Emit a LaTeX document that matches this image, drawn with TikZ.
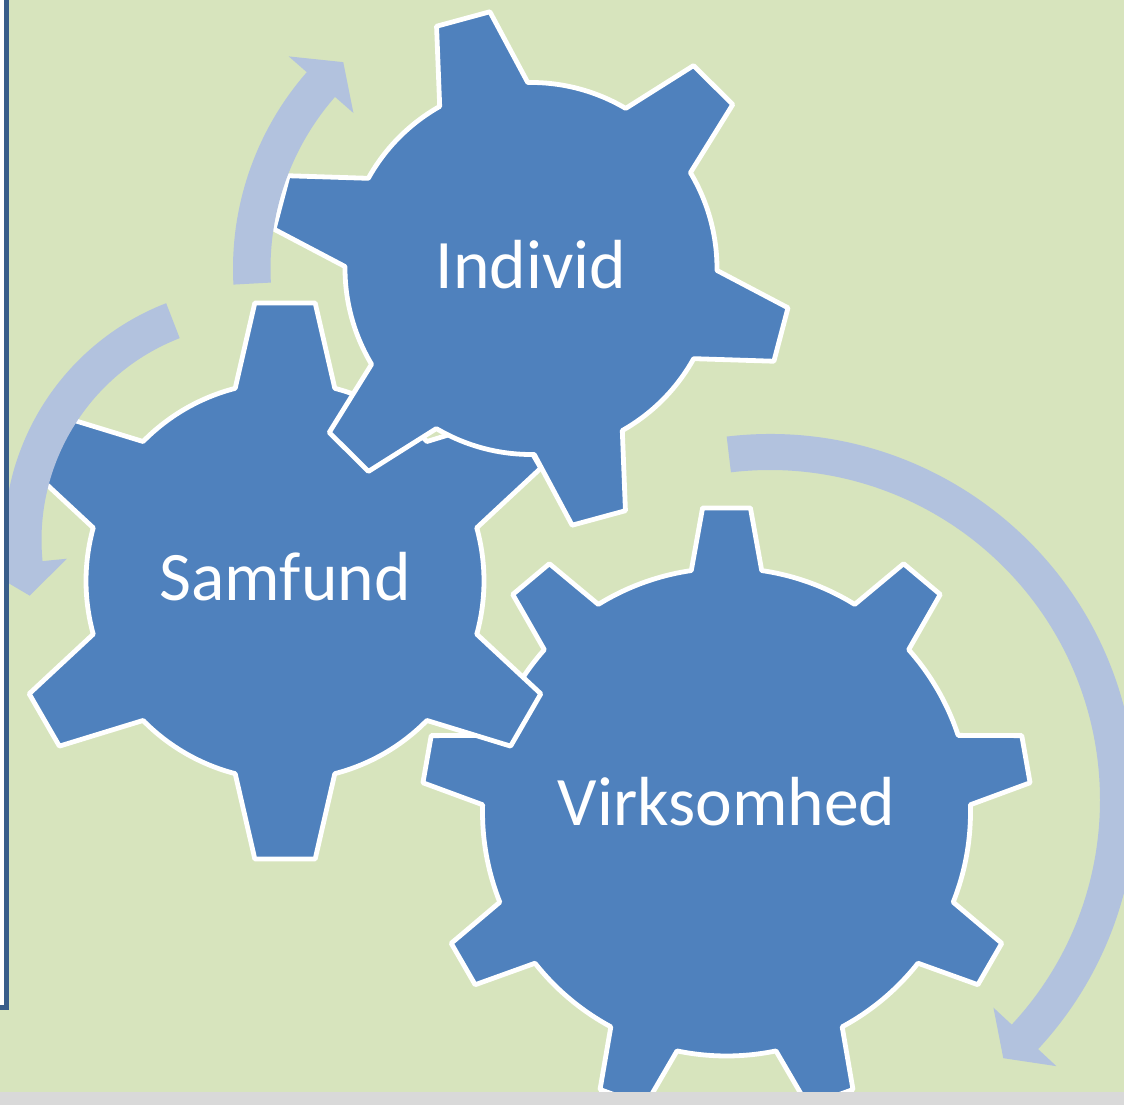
\documentclass[tikz,border=0pt]{standalone}
\usepackage{fontspec}
\setmainfont{Carlito}
\definecolor{pagegreen}{HTML}{D7E4BD}
\definecolor{gearblue}{HTML}{4F81BD}
\definecolor{arrowblue}{HTML}{B2C2DE}
\definecolor{frameblue}{HTML}{385D8A}
\definecolor{stripgray}{HTML}{D9D9D9}
\begin{document}
\begin{tikzpicture}[x=1pt, y=1pt,
    gear/.style={fill=gearblue, draw=white, line width=4.8pt, line join=round},
    gearlabel/.style={text=white, anchor=base, inner sep=0pt, font=\fontsize{69.5}{84}\selectfont},
    turnarrow/.style={fill=arrowblue}]
  \useasboundingbox (0,0) rectangle (1124,1105);
  \fill[pagegreen] (0,0) rectangle (1124,1105);
  % gears: centre, teeth, first tooth angle, body radius, tip radius, half widths, text baseline
  \foreach \gx/\gy/\gn/\gs/\gb/\gt/\wbase/\wtip/\gline/\gname/\gtext in {
      726.5/293/9/90/244/305/8.3/4.5/-14/virksomhed/Virksomhed,
      285/524/6/90/199/279.6/14.5/6.2/-20/samfund/Samfund,
      531/836.5/6/105.2/186/260/14.2/6.1/-20/individ/Individ}
  {
    \pgfmathsetmacro\gstep{360/\gn}
    \pgfmathtruncatemacro\glast{\gn-1}
    \draw[gear, shift={(\gx,\gy)}] ({\gs-\wbase}:\gb)
      \foreach \k in {0,...,\glast}{
        -- ({\gs+\k*\gstep-\wtip}:\gt) -- ({\gs+\k*\gstep+\wtip}:\gt)
        -- ({\gs+\k*\gstep+\wbase}:\gb)
        arc[start angle={\gs+\k*\gstep+\wbase}, end angle={\gs+(\k+1)*\gstep-\wbase}, radius=\gb]
      } -- cycle;
    \node[gearlabel] (\gname) at (\gx,\gy+\gline) {\gtext};
  }
  % circular arrows: centre, inner/outer/middle radius, tail, head base, tip
  \foreach \ax/\ay/\ai/\ao/\ac/\at/\ab/\ap in {
      531/836.5/260.5/298/279/183.1/138.8/132.3,
      258/565/216.5/254/235/111.2/185.6/193.7,
      770/305/330/366/348/96.8/-42.9/-47.9}
  {
    \fill[turnarrow, shift={(\ax,\ay)}] (\at:\ao)
      arc[start angle=\at, end angle=\ab, radius=\ao]
      -- ({\ab}:{\ac+43}) -- ({\ap}:{\ac}) -- ({\ab}:{\ac-43}) -- (\ab:\ai)
      arc[start angle=\ab, end angle=\at, radius=\ai] -- cycle;
  }
  % page edge and frame
  \fill[white] (0,100) rectangle (4,1105);
  \draw[frameblue, line width=5pt] (6.5,1106) -- (6.5,97.5) -- (0,97.5);
  \fill[stripgray] (0,0) rectangle (1124,13);
\end{tikzpicture}
\end{document}
